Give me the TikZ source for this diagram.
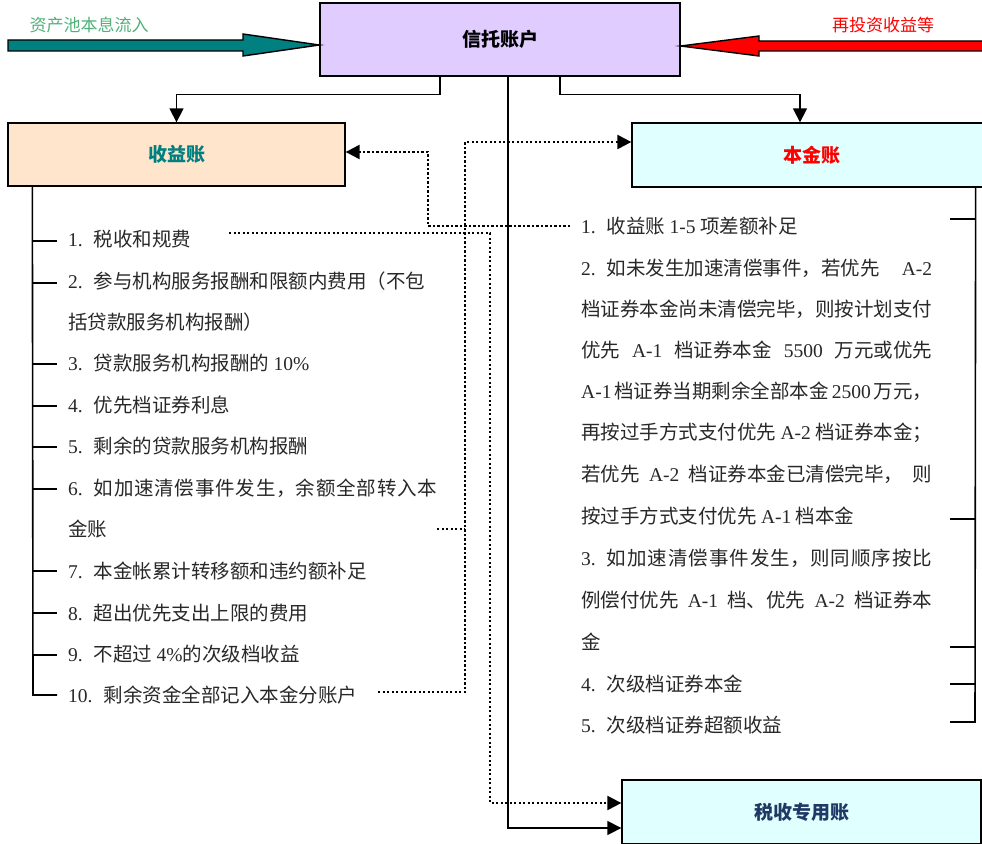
\documentclass[tikz,border=0pt]{standalone}
\usepackage{fontspec}
\setmainfont{Noto Sans CJK SC}
\newfontfamily\lat{Liberation Serif}
\usetikzlibrary{arrows.meta}
\definecolor{trustfill}{RGB}{224,204,255}
\definecolor{peach}{RGB}{255,229,204}
\definecolor{lcyan}{RGB}{224,255,255}
\definecolor{tealc}{RGB}{0,128,128}
\definecolor{greenlab}{RGB}{80,176,120}
\definecolor{navy}{RGB}{31,56,100}
\definecolor{txt}{RGB}{40,40,40}
\newcommand\EN[1]{{\lat #1}}
\newcommand\itm[1]{{\lat #1}\hspace{11pt}}
\newcommand\gsp{\hspace{0pt plus 1fil}}
\begin{document}
\begin{tikzpicture}[x=1pt,y=-1pt,
  acct/.style={draw=black,line width=1.3pt,inner sep=0pt,font=\fontsize{19}{20}\selectfont\bfseries},
  ln/.style={anchor=base west,inner sep=0pt,text=txt,font=\fontsize{19.5}{20}\selectfont},
  solidc/.style={line width=1.4pt,draw=black},
  dotc/.style={line width=2.2pt,dash pattern=on 2.2pt off 2.3pt},
  tip/.style={-{Triangle[length=14pt,width=14pt]}},
  bar/.style={line width=1.6pt}]
\useasboundingbox (0,0) rectangle (982,843);

% boxes
\node[acct,fill=trustfill,minimum width=360pt,minimum height=73pt] (trust) at (500,39.5) {信托账户};
\node[acct,fill=peach,minimum width=337pt,minimum height=63pt,text=tealc] (syz) at (176.5,154.5) {收益账};
\node[acct,fill=lcyan,minimum width=360pt,minimum height=64pt,text=red] (bjz) at (812,155) {本金账};
\node[acct,fill=lcyan,minimum width=359pt,minimum height=64pt,text=navy] (ssz) at (801.5,812) {税收专用账};

% big inflow arrows
\draw[line width=1.4pt,fill=tealc] (8,40) -- (243,40) -- (243,34) -- (trust.west |- 0,45) -- (243,56) -- (243,51) -- (8,51) -- cycle;
\draw[line width=1.4pt,fill=red] (995,41) -- (759,41) -- (759,36) -- (trust.east |- 0,46) -- (759,56) -- (759,51) -- (995,51) -- cycle;
\node[text=greenlab,font=\fontsize{17}{18}\selectfont] (lin) at (89,25) {资产池本息流入};
\node[text=red,font=\fontsize{17}{18}\selectfont] (lre) at (883,25) {再投资收益等};

% trust connectors
\draw[solidc,tip] ([xshift=-60pt]trust.south) -- ++(0,18) -| (syz.north);
\draw[solidc,tip] ([xshift=60pt]trust.south) -- ++(0,18) -| ([xshift=-12pt]bjz.north);
\draw[solidc,tip] ([xshift=8pt]trust.south) |- ([yshift=-16pt]ssz.west);

% left list
\node[ln] (L1) at (68,246) {\itm{1.}税收和规费};
\node[ln] (L2) at (68,288) {\makebox[369pt][s]{\itm{2.}参与机构服务报酬和限额内费用（不包}};
\node[ln] (L3) at (68,329) {括贷款服务机构报酬）};
\node[ln] (L4) at (68,370) {\itm{3.}贷款服务机构报酬的 \EN{10\%}};
\node[ln] (L5) at (68,412) {\itm{4.}优先档证券利息};
\node[ln] (L6) at (68,453) {\itm{5.}剩余的贷款服务机构报酬};
\node[ln] (L7) at (68,495) {\makebox[369pt][s]{\itm{6.}如\gsp 加\gsp 速\gsp 清\gsp 偿\gsp 事\gsp 件\gsp 发\gsp 生\gsp ，余\gsp 额\gsp 全\gsp 部\gsp 转\gsp 入\gsp 本}};
\node[ln] (L8) at (68,536) {金账};
\node[ln] (L9) at (68,578) {\itm{7.}本金帐累计转移额和违约额补足};
\node[ln] (L10) at (68,620) {\itm{8.}超出优先支出上限的费用};
\node[ln] (L11) at (68,661) {\itm{9.}不超过 \EN{4\%}的次级档收益};
\node[ln] (L12) at (68,702) {\itm{10.}剩余资金全部记入本金分账户};

\draw[bar] ([xshift=25pt]syz.south west) -- (33,695) -- (57,695);
\foreach \yy in {241,283,364,406,447,489,571,613,655}
  \draw[bar] (33,\yy) -- (57,\yy);

% right list
\node[ln] (R1) at (581,233) {\itm{1.}收益账 \EN{1-5} 项差额补足};
\node[ln] (R2) at (581,275) {\makebox[351pt][s]{\itm{2.}如未发生加速清偿事件，若优先 \EN{A-2}}};
\node[ln] (R3) at (581,316) {档证券本金尚未清偿完毕，则按计划支付};
\node[ln] (R4) at (581,357) {\makebox[351pt][s]{优先 \EN{A-1} 档证券本金 \EN{5500} 万元或优先}};
\node[ln] (R5) at (581,398) {\makebox[351pt][s]{\EN{A-1}\hfill 档证券当期剩余全部本金\hfill\EN{2500}\hfill 万元，}};
\node[ln] (R6) at (581,439) {\makebox[351pt][s]{再按过手方式支付优先 \EN{A-2} 档证券本金；}};
\node[ln] (R7) at (581,481) {\makebox[351pt][s]{若优先 \EN{A-2} 档证券本金已清偿完毕， 则}};
\node[ln] (R8) at (581,523) {按过手方式支付优先 \EN{A-1} 档本金};
\node[ln] (R9) at (581,565) {\makebox[351pt][s]{\itm{3.}如\gsp 加\gsp 速\gsp 清\gsp 偿\gsp 事\gsp 件\gsp 发\gsp 生\gsp ，则\gsp 同\gsp 顺\gsp 序\gsp 按\gsp 比}};
\node[ln] (R10) at (581,607) {\makebox[351pt][s]{例偿付优先 \EN{A-1} 档、优先 \EN{A-2} 档证券本}};
\node[ln] (R11) at (581,649) {金};
\node[ln] (R12) at (581,691) {\itm{4.}次级档证券本金};
\node[ln] (R13) at (581,732) {\itm{5.}次级档证券超额收益};

\draw[bar] ([xshift=-17pt]bjz.south east) -- (975,722) -- (950,722);
\foreach \yy in {219,519,647,684}
  \draw[bar] (975,\yy) -- (950,\yy);

% dotted connectors
\coordinate (a0) at (570,226);
\coordinate (a1) at (428,152);
\draw[dotc,tip] (a0) -- (428,226) -- (a1) -- (syz.east |- a1);

\coordinate (b0) at (437,529);
\coordinate (b1) at (378,692);
\coordinate (b2) at (465,142);
\draw[dotc] (b0) -- (465,529);
\draw[dotc,tip] (b1) -- (465,692) -- (b2) -- (bjz.west |- b2);

\coordinate (c0) at (229,233);
\draw[dotc,tip] (c0) -- (490,233) |- ([yshift=9pt]ssz.west);
\end{tikzpicture}
\end{document}
